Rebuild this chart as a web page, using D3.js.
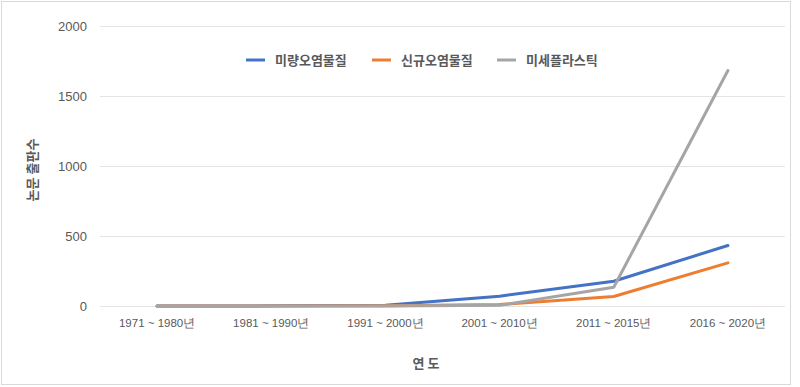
<!DOCTYPE html>
<html>
<head>
<meta charset="utf-8">
<script src="https://cdn.jsdelivr.net/npm/d3@7"></script>
<style>
  body { margin: 0; background: #fff; }
  svg { display: block; font-family: "Noto Sans CJK KR", "Noto Sans", sans-serif; }
</style>
</head>
<body>
<svg id="chart" width="800" height="387"></svg>
<script>
// periods on the x axis
const periods = ['1971 ~ 1980년', '1981 ~ 1990년', '1991 ~ 2000년', '2001 ~ 2010년', '2011 ~ 2015년', '2016 ~ 2020년'];

// paper counts per period
const traceValues = [0, 1, 5, 70, 177, 432];
const emergingValues = [0, 0, 2, 10, 68, 308];
const microplasticValues = [0, 0, 0, 5, 134, 1682];

const yTicks = [0, 500, 1000, 1500, 2000];

const series = [
    {name: '미량오염물질', values: traceValues, color: '#4472C4'},
    {name: '신규오염물질', values: emergingValues, color: '#ED7D31'},
    {name: '미세플라스틱', values: microplasticValues, color: '#A5A5A5'}
];

const svg = d3.select('#chart');

// outer frame
svg.append('rect')
    .attr('x', 1.5).attr('y', 1.5)
    .attr('width', 789).attr('height', 383)
    .attr('fill', 'none')
    .attr('stroke', '#d9d9d9');

const x = d3.scaleBand().domain(periods).range([100, 785]);
const y = d3.scaleLinear().domain([0, 2000]).range([306, 26]);

// gridlines
svg.append('g')
    .selectAll('line')
    .data(yTicks)
    .enter().append('line')
    .attr('x1', 100).attr('x2', 785)
    .attr('y1', d => Math.round(y(d)) + 0.5)
    .attr('y2', d => Math.round(y(d)) + 0.5)
    .attr('stroke', '#e4e4e4')
    .attr('stroke-width', 1);

// y axis labels
const yAxis = svg.append('g')
    .attr('transform', 'translate(100,0)')
    .call(d3.axisLeft(y).tickValues(yTicks).tickFormat(d3.format('d')).tickSize(0).tickPadding(13));
yAxis.select('.domain').remove();
yAxis.selectAll('text')
    .attr('fill', '#595959')
    .attr('font-size', 13)
    .style('font-family', '"Liberation Sans", Arial, sans-serif');

// x axis labels
const xAxis = svg.append('g')
    .attr('transform', 'translate(0,306)')
    .call(d3.axisBottom(x).tickSize(0).tickPadding(13));
xAxis.select('.domain').remove();
xAxis.selectAll('text')
    .attr('fill', '#595959')
    .attr('font-size', 11.5);

// lines
const line = d3.line()
    .x((d, i) => x(periods[i]) + x.bandwidth() / 2)
    .y(d => y(d));

svg.append('g')
    .selectAll('path')
    .data(series)
    .enter().append('path')
    .attr('d', d => line(d.values))
    .attr('fill', 'none')
    .attr('stroke', d => d.color)
    .attr('stroke-width', 3)
    .attr('stroke-linejoin', 'round')
    .attr('stroke-linecap', 'round');

// legend
const legendX = [246, 372, 497];
const legend = svg.append('g')
    .selectAll('g')
    .data(series)
    .enter().append('g')
    .attr('transform', (d, i) => `translate(${legendX[i]},60)`);

legend.append('line')
    .attr('x1', 0).attr('x2', 19)
    .attr('stroke', d => d.color)
    .attr('stroke-width', 3);

legend.append('text')
    .attr('x', 29)
    .attr('dy', '0.35em')
    .attr('fill', '#595959')
    .attr('font-size', 13)
    .attr('font-weight', 'bold')
    .text(d => d.name);

// axis titles
svg.append('text')
    .attr('transform', 'translate(32,170) rotate(-90)')
    .attr('text-anchor', 'middle')
    .attr('dy', '0.35em')
    .attr('fill', '#595959')
    .attr('font-size', 13)
    .attr('font-weight', 'bold')
    .text('논문 출판수');

svg.append('text')
    .attr('x', 426)
    .attr('y', 363)
    .attr('text-anchor', 'middle')
    .attr('dy', '0.35em')
    .attr('fill', '#595959')
    .attr('font-size', 13)
    .attr('font-weight', 'bold')
    .text('연 도');
</script>
</body>
</html>
